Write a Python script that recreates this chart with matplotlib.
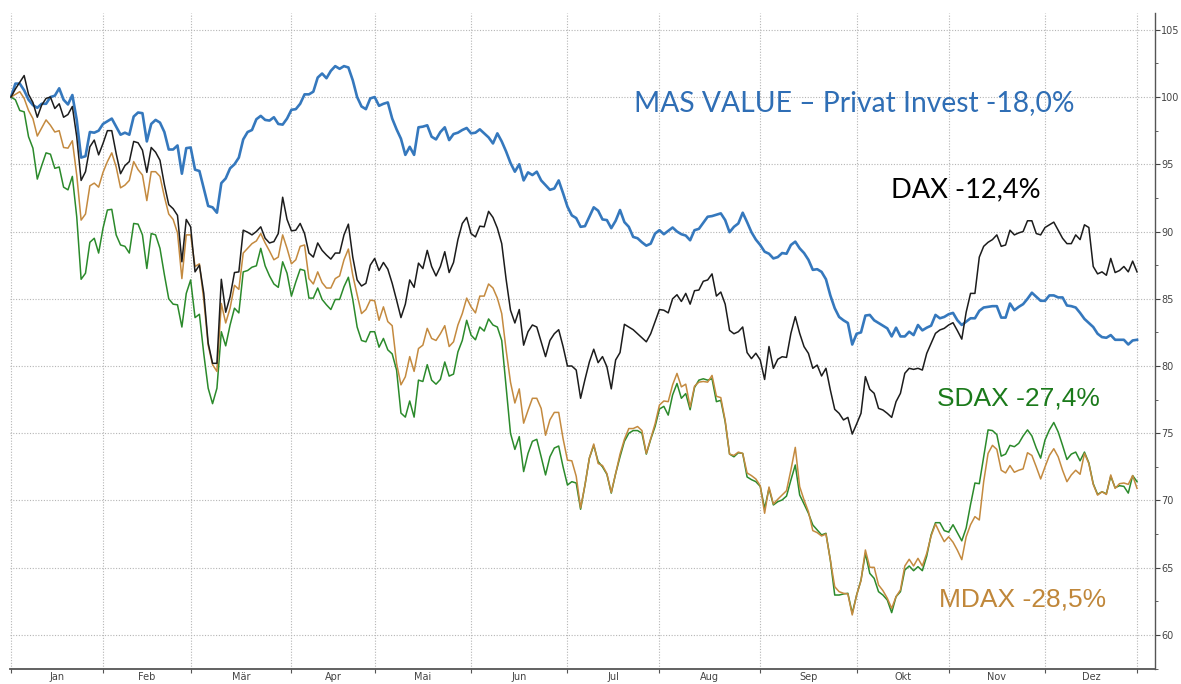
import numpy as np
import matplotlib
matplotlib.use("Agg")
import matplotlib.pyplot as plt
from matplotlib.ticker import MultipleLocator

# Index values 2022, one value per trading day (start = 100)
mas = [
    100.0, 101.0, 101.0, 100.5, 99.8, 99.4, 99.2, 99.5, 99.5, 100.0,
    100.1, 100.65, 99.8, 99.45, 100.15, 98.3, 95.5, 95.6, 97.4, 97.35,
    97.5, 98.0, 98.2, 98.4, 97.8, 97.2, 97.35, 97.2, 98.55, 98.85,
    98.8, 96.7, 98.0, 98.3, 98.1, 97.4, 96.1, 96.1, 96.4, 94.3,
    96.2, 96.25, 94.6, 94.5, 93.2, 91.9, 91.8, 91.4, 93.6, 93.95,
    94.7, 95.0, 95.5, 96.85, 97.4, 97.55, 98.35, 98.6, 98.3, 98.25,
    98.5, 98.0, 97.95, 98.4, 99.05, 99.1, 99.5, 100.2, 100.2, 100.4,
    101.45, 101.75, 101.4, 101.95, 102.3, 102.1, 102.3, 102.2, 101.25, 100.0,
    99.3, 99.1, 99.9, 100.0, 99.35, 99.5, 99.6, 98.4, 97.6, 96.9,
    95.7, 96.3, 95.7, 97.75, 97.8, 97.9, 97.05, 96.85, 97.4, 97.75,
    96.8, 97.25, 97.35, 97.55, 97.7, 97.3, 97.35, 97.6, 97.3, 97.0,
    96.55, 97.3, 96.7, 95.95, 95.1, 94.45, 95.0, 93.8, 94.4, 94.2,
    94.45, 93.8, 93.45, 93.1, 93.2, 93.8, 92.85, 91.85, 91.2, 91.0,
    90.35, 90.4, 91.1, 91.8, 91.55, 90.9, 90.85, 90.25, 90.8, 91.6,
    90.7, 90.35, 89.6, 89.5, 89.2, 88.95, 89.1, 89.85, 90.1, 89.8,
    90.05, 90.3, 90.0, 89.8, 89.7, 89.35, 90.1, 90.2, 90.65, 91.1,
    91.15, 91.25, 91.35, 90.85, 89.95, 90.35, 90.6, 91.4, 90.7, 89.95,
    89.4, 89.0, 88.5, 88.35, 88.0, 88.1, 88.4, 88.35, 89.0, 89.25,
    88.75, 88.4, 87.9, 87.15, 87.2, 87.0, 86.45, 85.25, 84.3, 83.65,
    83.4, 83.2, 81.6, 82.4, 82.5, 83.75, 83.8, 83.4, 83.2, 83.0,
    82.8, 82.2, 82.85, 82.2, 82.2, 82.55, 82.3, 83.05, 82.65, 82.85,
    83.0, 83.8, 83.55, 83.65, 83.85, 83.95, 83.4, 83.05, 83.3, 83.55,
    83.55, 84.1, 84.35, 84.4, 84.45, 84.45, 83.6, 83.6, 84.65, 84.15,
    84.4, 84.6, 85.0, 85.45, 85.15, 84.85, 84.85, 85.25, 85.25, 85.1,
    85.1, 84.5, 84.45, 84.35, 83.95, 83.5, 83.2, 82.9, 82.4, 82.15,
    82.1, 82.3, 81.95, 81.95, 81.95, 81.6, 81.9, 81.95,
]

dax = [
    100.0, 100.6, 101.1, 101.6, 100.2, 99.6, 98.5, 99.4, 99.9, 100.0,
    99.15, 99.5, 98.5, 98.7, 99.3, 97.05, 93.8, 94.45, 96.3, 96.8,
    95.7, 96.55, 97.5, 97.5, 95.8, 94.3, 94.9, 95.2, 96.7, 96.6,
    96.05, 94.4, 96.25, 95.9, 95.3, 93.5, 92.0, 91.7, 91.2, 87.75,
    90.9, 90.35, 87.0, 87.5, 85.4, 81.7, 80.2, 80.2, 86.45, 84.0,
    85.15, 86.95, 87.0, 90.1, 89.95, 89.75, 90.0, 90.35, 89.5, 89.15,
    89.25, 89.85, 92.55, 90.9, 90.05, 90.1, 90.6, 89.85, 88.4, 88.1,
    89.15, 88.6, 88.25, 87.95, 88.4, 88.4, 89.75, 90.55, 88.1, 86.4,
    85.95, 86.15, 87.5, 88.0, 87.1, 87.7, 87.2, 86.15, 84.9, 83.6,
    84.6, 86.4, 85.85, 87.65, 87.25, 88.6, 87.4, 86.7, 87.4, 88.5,
    86.95, 87.7, 89.4, 90.6, 91.05, 89.85, 89.6, 90.4, 90.35, 91.5,
    91.05, 90.25, 89.1, 86.45, 84.15, 83.2, 84.2, 81.55, 82.55, 83.05,
    82.9, 81.8, 80.7, 81.9, 82.4, 82.7, 81.45, 80.0, 80.0, 79.7,
    77.6, 79.0, 80.3, 81.25, 80.25, 80.7, 79.95, 78.3, 80.45, 81.0,
    83.1, 82.9, 82.7, 82.4, 82.1, 81.8, 82.4, 83.3, 84.2, 84.15,
    83.95, 85.0, 85.3, 84.8, 85.4, 84.6, 85.6, 85.65, 86.3, 86.4,
    86.85, 85.2, 85.5, 84.6, 82.65, 82.4, 82.55, 82.9, 81.0, 80.55,
    80.95, 80.45, 79.0, 81.45, 79.83, 80.5, 80.69, 80.64, 82.43, 83.67,
    82.43, 81.44, 80.94, 79.83, 80.07, 79.26, 79.83, 78.22, 76.78, 76.48,
    75.99, 76.18, 74.94, 75.69, 76.48, 79.21, 78.27, 77.97, 76.85, 76.73,
    76.48, 76.18, 77.35, 77.97, 79.46, 79.83, 79.75, 79.83, 79.7, 80.94,
    81.69, 82.43, 82.68, 82.8, 83.05, 83.22, 82.63, 82.0, 84.0, 85.4,
    85.4, 88.1, 88.9, 89.2, 89.4, 89.75, 88.9, 89.0, 90.1, 89.75,
    89.9, 90.0, 90.8, 90.8, 89.85, 89.75, 90.3, 90.5, 90.7, 90.1,
    89.5, 89.1, 89.1, 89.75, 89.4, 90.5, 90.3, 87.4, 86.85, 87.0,
    86.75, 88.0, 86.95, 87.1, 87.4, 87.0, 87.8, 87.0,
]

mdax = [
    100.0, 100.2, 100.4, 99.9, 99.0, 98.4, 97.1, 97.7, 98.3, 97.9,
    97.4, 97.5, 96.25, 96.2, 96.75, 94.2, 90.85, 91.3, 93.4, 93.6,
    93.3, 94.4, 95.2, 95.85, 94.8, 93.25, 93.45, 93.8, 95.2, 94.6,
    94.2, 92.3, 94.45, 94.45, 94.1, 92.6, 91.3, 90.9, 89.9, 86.5,
    89.75, 89.75, 87.4, 87.6, 84.9, 81.55, 80.1, 79.6, 84.65, 83.2,
    84.3, 86.0, 85.7, 88.4, 88.75, 89.1, 89.3, 89.85, 89.15, 88.55,
    87.9, 88.1, 89.75, 88.75, 87.6, 87.9, 88.9, 89.0, 86.5, 86.1,
    87.0, 86.2, 85.8, 85.8, 86.5, 86.7, 87.9, 88.7, 86.75, 85.3,
    83.9, 84.2, 84.9, 84.85, 83.4, 84.4, 83.3, 83.0, 80.2, 78.6,
    79.2, 80.7, 79.6, 81.3, 81.55, 82.8, 82.05, 81.9, 82.4, 83.0,
    81.45, 81.8, 83.05, 83.9, 85.05, 84.4, 83.95, 85.2, 85.2, 86.1,
    85.8, 85.05, 83.9, 81.2, 78.8, 77.25, 78.3, 75.75, 76.7, 77.6,
    77.6, 76.85, 74.85, 76.0, 76.55, 76.55, 74.6, 73.0, 72.95, 71.8,
    69.45, 71.15, 73.15, 74.2, 72.75, 72.6, 72.0, 70.6, 72.0, 73.45,
    74.55, 75.35, 75.35, 75.5, 75.2, 73.5, 74.6, 75.7, 77.1, 77.4,
    77.35, 78.6, 79.45, 78.45, 78.65, 76.95, 78.5, 78.8, 78.85, 78.8,
    79.3, 77.75, 77.65, 75.95, 73.45, 73.35, 73.6, 73.5, 72.05, 71.85,
    71.6, 71.1, 69.05, 71.0, 69.74, 70.09, 70.41, 70.73, 72.27, 73.95,
    71.03, 70.04, 69.17, 67.76, 67.61, 67.36, 67.51, 65.58, 63.59, 63.22,
    63.1, 63.05, 61.49, 62.97, 64.04, 66.32, 65.03, 65.03, 63.72, 63.3,
    62.73, 61.98, 62.85, 63.35, 65.13, 65.63, 65.13, 65.7, 65.13, 66.07,
    67.36, 68.25, 67.56, 66.94, 67.3, 66.9, 66.3, 65.6, 67.3, 68.2,
    68.8, 68.55, 71.4, 73.5, 74.1, 73.8, 72.25, 72.05, 72.6, 72.1,
    72.25, 72.35, 73.55, 73.35, 72.5, 71.6, 72.5, 73.35, 73.85, 73.25,
    72.25, 71.4, 71.9, 72.25, 71.95, 73.5, 72.75, 71.2, 70.4, 70.65,
    70.45, 71.9, 70.9, 71.25, 71.3, 71.2, 71.85, 70.9,
]

sdax = [
    100.0, 99.8, 99.0, 98.9, 97.05, 96.2, 93.9, 94.9, 95.85, 95.75,
    94.7, 94.8, 93.3, 93.1, 94.1, 91.1, 86.45, 86.9, 89.2, 89.5,
    88.4, 90.25, 91.6, 91.65, 89.75, 89.0, 88.9, 88.4, 90.6, 90.55,
    89.75, 87.25, 89.85, 89.75, 88.75, 86.8, 85.0, 84.6, 84.55, 82.9,
    85.4, 86.4, 83.6, 83.85, 80.9, 78.35, 77.2, 78.35, 82.55, 81.5,
    83.05, 84.3, 83.95, 87.0, 87.1, 87.35, 87.45, 88.75, 87.45, 86.7,
    86.1, 85.85, 87.75, 86.9, 85.2, 86.25, 87.2, 87.1, 85.05, 85.05,
    85.8, 84.95, 84.55, 84.2, 84.95, 84.95, 85.9, 86.6, 84.95, 82.9,
    81.9, 81.8, 82.55, 82.55, 81.4, 82.05, 81.2, 80.9, 79.7, 76.5,
    76.2, 77.4, 76.2, 78.95, 78.85, 80.1, 78.95, 78.65, 79.0, 80.3,
    79.25, 79.4, 81.05, 81.9, 83.4, 82.3, 81.95, 82.9, 82.6, 83.5,
    83.05, 82.9, 81.9, 78.45, 75.0, 73.8, 74.75, 72.15, 73.5, 74.4,
    74.55, 73.25, 71.9, 73.25, 73.9, 74.05, 72.5, 71.15, 71.4, 71.3,
    69.35, 71.15, 73.15, 74.1, 72.9, 72.5, 71.95, 70.55, 72.0, 73.25,
    74.4, 75.0, 75.2, 75.2, 75.0, 73.45, 74.55, 75.5, 76.8, 77.0,
    76.35, 77.85, 78.7, 77.6, 77.95, 76.75, 78.4, 78.95, 79.05, 78.95,
    79.05, 77.35, 77.45, 75.85, 73.45, 73.25, 73.55, 73.5, 71.75, 71.55,
    71.4, 71.05, 69.4, 70.9, 69.67, 69.91, 70.04, 70.33, 71.52, 72.64,
    70.41, 69.74, 69.05, 68.18, 67.81, 67.44, 67.56, 65.58, 62.97, 62.97,
    63.05, 63.1, 61.61, 62.97, 64.09, 66.07, 64.58, 64.21, 63.22, 62.97,
    62.6, 61.66, 62.85, 63.22, 64.83, 65.13, 64.78, 65.08, 64.78, 65.87,
    67.44, 68.35, 68.35, 67.76, 67.65, 68.2, 67.6, 67.0, 67.95, 69.7,
    71.3, 71.25, 73.25, 75.25, 75.2, 74.9, 73.3, 73.45, 74.1, 74.0,
    74.25, 74.8, 75.25, 74.8, 73.9, 73.15, 74.5, 75.25, 75.8, 75.1,
    74.1, 73.05, 73.45, 73.6, 72.95, 73.6, 72.8, 71.25, 70.45, 70.65,
    70.5, 71.8, 70.95, 71.1, 71.05, 70.55, 71.85, 71.4,
]

# first trading day of each month (index), last entry = year end
month_starts = [0, 21, 41, 64, 83, 105, 127, 148, 171, 193, 214, 236, 257]
months = ["Jan", "Feb", "Mär", "Apr", "Mai", "Jun", "Jul", "Aug", "Sep", "Okt", "Nov", "Dez"]

days = np.arange(len(mas))

fig = plt.figure(figsize=(11.81, 6.84), dpi=100)
ax = fig.add_axes([10 / 1181, 15 / 684, 1145 / 1181, 656 / 684])

ax.plot(days, mas, color="#3578bd", lw=1.9, zorder=3)
ax.plot(days, sdax, color="#2b8a2b", lw=1.1, zorder=4)
ax.plot(days, mdax, color="#c48a3f", lw=1.1, zorder=5)
ax.plot(days, dax, color="#1c1c1c", lw=1.1, zorder=6)

ax.set_xlim(-0.23, 261.1)
ax.set_ylim(57.47, 106.25)

for side in ["top", "left"]:
    ax.spines[side].set_visible(False)
ax.spines["right"].set_color("#555555")
ax.spines["right"].set_linewidth(1.0)
ax.spines["bottom"].set_color("#555555")
ax.spines["bottom"].set_linewidth(1.3)

# y axis on the right
ax.yaxis.tick_right()
ax.yaxis.set_major_locator(MultipleLocator(5))
ax.yaxis.set_minor_locator(MultipleLocator(2.5))
ax.tick_params(axis="y", which="major", length=3.6, width=0.8, pad=1, labelsize=7,
               color="#444444", labelcolor="#444444")
ax.tick_params(axis="y", which="minor", length=2, width=0.6, color="#444444")

# x axis: month boundaries as ticks, names centered in between
mids = [(a + b) / 2 for a, b in zip(month_starts[:-1], month_starts[1:])]
ax.set_xticks(month_starts)
ax.set_xticklabels([])
ax.set_xticks(mids, minor=True)
ax.set_xticklabels(months, minor=True)
ax.tick_params(axis="x", which="major", length=3, width=0.8, color="#555555")
ax.tick_params(axis="x", which="minor", length=0, pad=2, labelsize=7, labelcolor="#444444")

ax.grid(True, which="major", color="#b5b5b5", linestyle=(0, (1, 1.5)), lw=0.8)
ax.set_axisbelow(True)

# labels
ax.text(0.545, 0.851, "MAS VALUE – Privat Invest -18,0%", transform=ax.transAxes,
        color="#2f6eb5", fontsize=20.3, family="Lato", va="baseline", ha="left")
ax.text(0.7694, 0.7195, "DAX -12,4%", transform=ax.transAxes,
        color="black", fontsize=19.6, family="Lato", va="baseline", ha="left")
ax.text(0.8093, 0.4024, "SDAX -27,4%", transform=ax.transAxes,
        color="#1b7a1b", fontsize=19, family="Liberation Sans", va="baseline", ha="left")
ax.text(0.8116, 0.096, "MDAX -28,5%", transform=ax.transAxes,
        color="#c0873a", fontsize=19, family="Liberation Sans", va="baseline", ha="left")

fig.savefig("out.png", dpi=100)
